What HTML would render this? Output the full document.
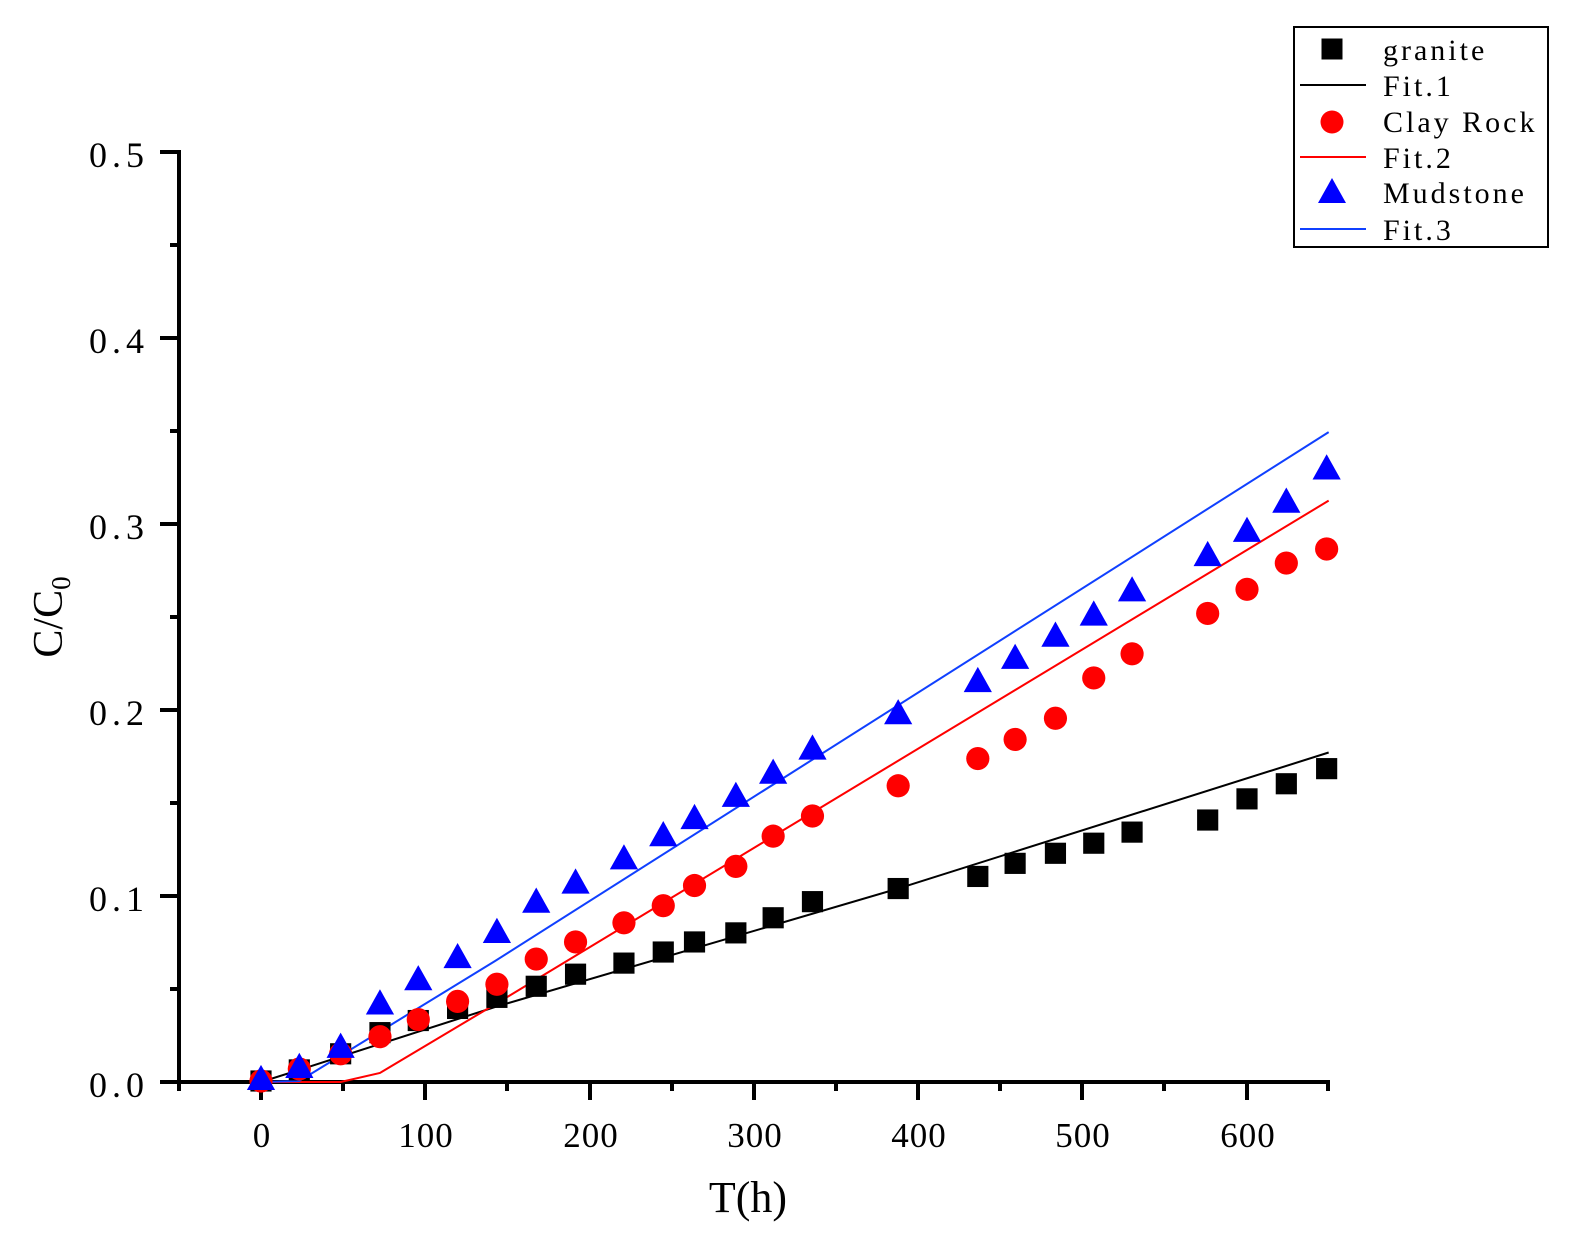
<!DOCTYPE html>
<html><head><meta charset="utf-8"><style>
html,body{margin:0;padding:0;background:#fff;}
svg{display:block;}
text{font-family:"Liberation Serif","Noto Serif CJK SC",serif;fill:#000;}
</style></head><body>
<svg width="1579" height="1237" viewBox="0 0 1579 1237" xmlns="http://www.w3.org/2000/svg">
<defs>
<rect id="sq" x="-10.5" y="-10.5" width="21" height="21" fill="#000"/>
<circle id="ci" r="11.5" fill="#ff0000"/>
<polygon id="tr" points="0,-14 14,11 -14,11" fill="#0000ff"/>
</defs>
<g stroke="#000" stroke-width="4" fill="none">
<line x1="179" y1="152" x2="179" y2="1084"/>
<line x1="177" y1="1082" x2="1330" y2="1082"/>
</g>
<g stroke="#000" stroke-width="4">
<line x1="160" y1="1082" x2="179" y2="1082"/><line x1="170" y1="989" x2="179" y2="989"/>
<line x1="160" y1="896" x2="179" y2="896"/><line x1="170" y1="803" x2="179" y2="803"/>
<line x1="160" y1="710" x2="179" y2="710"/><line x1="170" y1="617" x2="179" y2="617"/>
<line x1="160" y1="524" x2="179" y2="524"/><line x1="170" y1="431" x2="179" y2="431"/>
<line x1="160" y1="338" x2="179" y2="338"/><line x1="170" y1="245" x2="179" y2="245"/>
<line x1="160" y1="152" x2="181" y2="152"/>
<line x1="179" y1="1082" x2="179" y2="1091"/>
<line x1="261" y1="1082" x2="261" y2="1100"/><line x1="343" y1="1082" x2="343" y2="1091"/>
<line x1="425" y1="1082" x2="425" y2="1100"/><line x1="507" y1="1082" x2="507" y2="1091"/>
<line x1="590" y1="1082" x2="590" y2="1100"/><line x1="672" y1="1082" x2="672" y2="1091"/>
<line x1="754" y1="1082" x2="754" y2="1100"/><line x1="836" y1="1082" x2="836" y2="1091"/>
<line x1="918" y1="1082" x2="918" y2="1100"/><line x1="1000" y1="1082" x2="1000" y2="1091"/>
<line x1="1082" y1="1082" x2="1082" y2="1100"/><line x1="1164" y1="1082" x2="1164" y2="1091"/>
<line x1="1247" y1="1082" x2="1247" y2="1100"/><line x1="1328" y1="1082" x2="1328" y2="1091"/>
</g>
<g font-size="36" letter-spacing="5">
<text x="89" y="1097">0.0</text><text x="89" y="911">0.1</text><text x="89" y="725">0.2</text>
<text x="89" y="539">0.3</text><text x="89" y="353">0.4</text><text x="89" y="167">0.5</text>
</g>
<g font-size="35" text-anchor="middle" letter-spacing="1">
<text x="262" y="1147">0</text><text x="426" y="1147">100</text><text x="591" y="1147">200</text>
<text x="755" y="1147">300</text><text x="919" y="1147">400</text><text x="1083" y="1147">500</text>
<text x="1248" y="1147">600</text>
</g>
<text x="748" y="1212" font-size="44" text-anchor="middle">T(h)</text>
<text transform="translate(62,617) rotate(-90)" font-size="42" text-anchor="middle">C/C<tspan font-size="27" dy="8">0</tspan></text>

<g transform="matrix(1.00818 0 0 1.00758 -0.12 -1.15)">
<polyline fill="none" stroke="#000" stroke-width="2" points="259,1075 300,1062 493,1000 891,883 1318,748"/>
<polyline fill="none" stroke="#ff0000" stroke-width="2" points="259,1075 338,1075 377,1066 496,995 1318,498"/>
<polyline fill="none" stroke="#1040ff" stroke-width="2" points="259,1075 297,1074 491,955 1318,430"/>
<g>
<use href="#sq" x="259" y="1074"/><use href="#sq" x="297" y="1063"/><use href="#sq" x="338" y="1047"/><use href="#sq" x="377" y="1026"/><use href="#sq" x="415" y="1014"/><use href="#sq" x="454" y="1002"/><use href="#sq" x="493" y="991"/><use href="#sq" x="532" y="980"/><use href="#sq" x="571" y="968"/><use href="#sq" x="619" y="957"/><use href="#sq" x="658" y="946"/><use href="#sq" x="689" y="936"/><use href="#sq" x="730" y="927"/><use href="#sq" x="767" y="912"/><use href="#sq" x="806" y="896"/><use href="#sq" x="891" y="883"/><use href="#sq" x="970" y="871"/><use href="#sq" x="1007" y="858"/><use href="#sq" x="1047" y="848"/><use href="#sq" x="1085" y="838"/><use href="#sq" x="1123" y="827"/><use href="#sq" x="1198" y="815"/><use href="#sq" x="1237" y="794"/><use href="#sq" x="1276" y="779"/><use href="#sq" x="1316" y="764"/>
</g>
<g>
<use href="#ci" x="259" y="1074"/><use href="#ci" x="297" y="1062"/><use href="#ci" x="338" y="1047"/><use href="#ci" x="377" y="1030"/><use href="#ci" x="415" y="1013"/><use href="#ci" x="454" y="995"/><use href="#ci" x="493" y="978"/><use href="#ci" x="532" y="953"/><use href="#ci" x="571" y="936"/><use href="#ci" x="619" y="917"/><use href="#ci" x="658" y="900"/><use href="#ci" x="689" y="880"/><use href="#ci" x="730" y="861"/><use href="#ci" x="767" y="831"/><use href="#ci" x="806" y="811"/><use href="#ci" x="891" y="781"/><use href="#ci" x="970" y="754"/><use href="#ci" x="1007" y="735"/><use href="#ci" x="1047" y="714"/><use href="#ci" x="1085" y="674"/><use href="#ci" x="1123" y="650"/><use href="#ci" x="1198" y="610"/><use href="#ci" x="1237" y="586"/><use href="#ci" x="1276" y="560"/><use href="#ci" x="1316" y="546"/>
</g>
<g>
<use href="#tr" x="259" y="1072"/><use href="#tr" x="297" y="1060"/><use href="#tr" x="338" y="1040"/><use href="#tr" x="377" y="997"/><use href="#tr" x="415" y="973"/><use href="#tr" x="454" y="951"/><use href="#tr" x="493" y="926"/><use href="#tr" x="532" y="896"/><use href="#tr" x="571" y="877"/><use href="#tr" x="619" y="853"/><use href="#tr" x="658" y="830"/><use href="#tr" x="689" y="813"/><use href="#tr" x="730" y="791"/><use href="#tr" x="767" y="768"/><use href="#tr" x="806" y="744"/><use href="#tr" x="891" y="709"/><use href="#tr" x="970" y="677"/><use href="#tr" x="1007" y="654"/><use href="#tr" x="1047" y="632"/><use href="#tr" x="1085" y="611"/><use href="#tr" x="1123" y="587"/><use href="#tr" x="1198" y="552"/><use href="#tr" x="1237" y="528"/><use href="#tr" x="1276" y="499"/><use href="#tr" x="1316" y="466"/>
</g>
</g>

<rect x="1294" y="27" width="254" height="220" fill="#fff" stroke="#000" stroke-width="2"/>
<use href="#sq" x="1332" y="49"/>
<line x1="1300" y1="85" x2="1366" y2="85" stroke="#000" stroke-width="2"/>
<use href="#ci" x="1332" y="122"/>
<line x1="1300" y1="157" x2="1366" y2="157" stroke="#ff0000" stroke-width="2"/>
<use href="#tr" x="1332" y="192"/>
<line x1="1300" y1="229" x2="1366" y2="229" stroke="#1040ff" stroke-width="2"/>
<g font-size="30" letter-spacing="3">
<text x="1383" y="60">granite</text>
<text x="1383" y="96">Fit.1</text>
<text x="1383" y="132">Clay Rock</text>
<text x="1383" y="168">Fit.2</text>
<text x="1383" y="203">Mudstone</text>
<text x="1383" y="240">Fit.3</text>
</g>
</svg>
</body></html>
